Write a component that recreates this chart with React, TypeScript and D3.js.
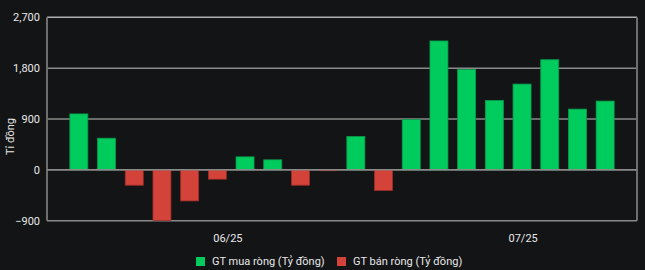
import React from "react";
import * as d3 from "d3";

const days = Array.from({ length: 20 }, (_, i) => `d${i + 1}`);
const values = [990, 560, -272, -895, -550, -165, 230, 177, -272, -15, 590, -366, 890, 2281, 1777, 1228, 1518, 1949, 1075, 1217];
const yTicks = [-900, 0, 900, 1800, 2700];
const monthLabels = ["06/25", "07/25"];
const monthPos = [5.38, 16.04];
const legendItems = ["GT mua ròng (Tỷ đồng)", "GT bán ròng (Tỷ đồng)"];

const W = 645, H = 270;
const L = 47, R = 637, T = 17.3, B = 220.7;
const GREEN = "#00cc5e", GREEN_S = "#0a9c4c";
const RED = "#d4433a", RED_S = "#9e2e28";
const FONT = "Roboto, 'Noto Sans', sans-serif";

export default function App() {
  const x = d3.scaleBand<string>().domain(days).range([L, R]).paddingInner(0.35).paddingOuter(0.825);
  const y = d3.scaleLinear().domain([-900, 2700]).range([B, T]);
  const idx = d3.scaleLinear().domain([0, 1]).range([x(days[0])! + x.bandwidth() / 2, x(days[1])! + x.bandwidth() / 2]);
  return (
    <svg width={W} height={H} style={{ position: "absolute", left: 0, top: 0, background: "#131416" }}>
      <rect x={0} y={0} width={W} height={H} fill="#131416" />
      {yTicks.map((t) => (
        <g key={t}>
          <line x1={L} x2={R} y1={y(t)} y2={y(t)} stroke={t === 2700 ? "#b0b0b0" : "#8a8a8a"} strokeWidth={1.5} />
          <text x={40} y={y(t)} dy="0.35em" textAnchor="end" fill="#e8e8e8" fontSize={11} fontFamily={FONT}>
            {d3.format(",")(t)}
          </text>
        </g>
      ))}
      <line x1={L} x2={L} y1={T} y2={B} stroke="#6e6e6e" strokeWidth={2} />
      <line x1={R} x2={R} y1={T} y2={B} stroke="#6e6e6e" strokeWidth={2} />
      {values.map((v, i) => {
        const pos = v >= 0;
        return (
          <rect
            key={i}
            x={x(days[i])}
            width={x.bandwidth()}
            y={pos ? y(v) : y(0)}
            height={Math.abs(y(v) - y(0))}
            fill={pos ? GREEN : RED}
            stroke={pos ? GREEN_S : RED_S}
            strokeWidth={0.8}
          />
        );
      })}
      <line x1={L} x2={R} y1={y(0)} y2={y(0)} stroke="#8a8a8a" strokeWidth={1.5} />
      {monthLabels.map((m, i) => (
        <text key={m} x={idx(monthPos[i])} y={242} textAnchor="middle" fill="#e8e8e8" fontSize={11} fontFamily={FONT}>
          {m}
        </text>
      ))}
      <text transform={`translate(14,${136.5}) rotate(-90)`} textAnchor="middle" fill="#e8e8e8" fontSize={11} fontFamily={FONT}>
        Tỉ đồng
      </text>
      {legendItems.map((l, i) => {
        const lx = i === 0 ? 196 : 337;
        return (
          <g key={l}>
            <rect x={lx} y={257} width={9} height={9} fill={i === 0 ? GREEN : RED} />
            <text x={lx + 16} y={261.5} dy="0.35em" fill="#e8e8e8" fontSize={11} fontFamily={FONT}>
              {l}
            </text>
          </g>
        );
      })}
    </svg>
  );
}
